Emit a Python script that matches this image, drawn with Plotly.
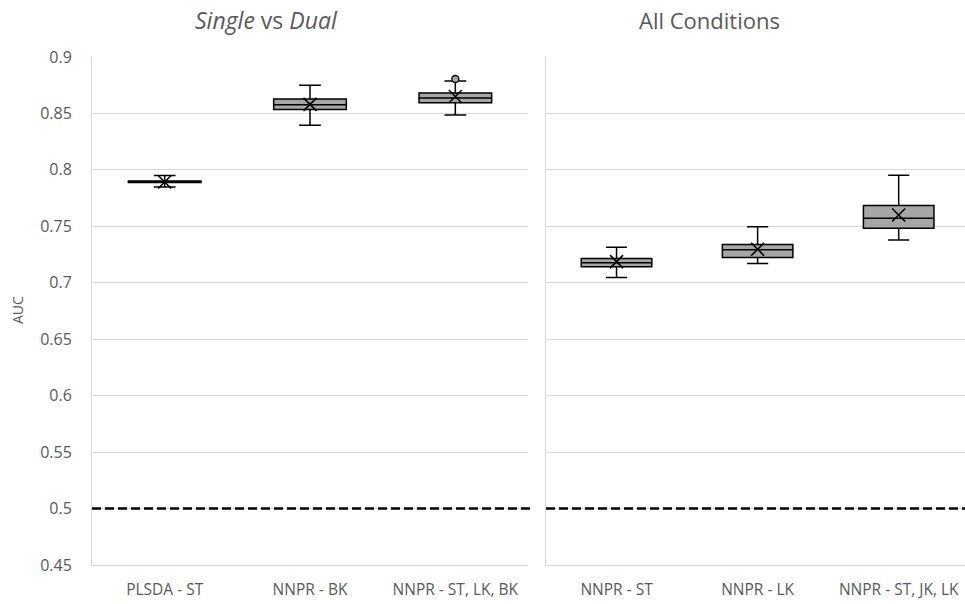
import plotly.graph_objects as go

# ---- data ----
left_cats = ["PLSDA - ST", "NNPR - BK", "NNPR - ST, LK, BK"]
left_q1 = [0.7888, 0.8535, 0.8595]
left_median = [0.7895, 0.8577, 0.8636]
left_q3 = [0.7902, 0.8627, 0.8680]
left_lower = [0.7848, 0.8395, 0.8487]
left_upper = [0.7950, 0.8750, 0.8787]
left_mean = [0.7893, 0.8580, 0.8650]
left_outlier_cat = ["NNPR - ST, LK, BK"]
left_outlier_val = [0.8805]

right_cats = ["NNPR - ST", "NNPR - LK", "NNPR - ST, JK, LK"]
right_q1 = [0.7142, 0.7225, 0.7482]
right_median = [0.7178, 0.7293, 0.7571]
right_q3 = [0.7214, 0.7340, 0.7684]
right_lower = [0.7047, 0.7170, 0.7380]
right_upper = [0.7314, 0.7497, 0.7953]
right_mean = [0.7187, 0.7297, 0.7600]

chance_level = 0.5
y_ticks = [0.45, 0.5, 0.55, 0.6, 0.65, 0.7, 0.75, 0.8, 0.85, 0.9]
y_ticklabels = ["0.45", "0.5", "0.55", "0.6", "0.65", "0.7", "0.75", "0.8", "0.85", "0.9"]

W, H = 965, 604
BOX_FILL = "#A6A6A6"
GRID = "#D9D9D9"
TXT = "#595959"
SANS = "Open Sans, Noto Sans, sans-serif"

fig = go.Figure()

def add_panel(cats, q1, med, q3, lo, hi, mean, xa, ya):
    fig.add_trace(go.Box(
        x=cats, q1=q1, median=med, q3=q3, lowerfence=lo, upperfence=hi,
        fillcolor=BOX_FILL, line=dict(color="black", width=1.5),
        width=0.5, whiskerwidth=0.3, boxpoints=False, showlegend=False,
        xaxis=xa, yaxis=ya, hoverinfo="skip"))
    fig.add_trace(go.Scatter(
        x=cats, y=mean, mode="markers",
        marker=dict(symbol="x-thin", size=13, line=dict(color="black", width=1.6)),
        showlegend=False, xaxis=xa, yaxis=ya, hoverinfo="skip"))

add_panel(left_cats, left_q1, left_median, left_q3, left_lower, left_upper, left_mean, "x", "y")
add_panel(right_cats, right_q1, right_median, right_q3, right_lower, right_upper, right_mean, "x2", "y2")

fig.add_trace(go.Scatter(
    x=left_outlier_cat, y=left_outlier_val, mode="markers",
    marker=dict(symbol="circle", size=7, color=BOX_FILL, line=dict(color="black", width=1.3)),
    showlegend=False, xaxis="x", yaxis="y", hoverinfo="skip"))

# chance line
for xref, yref in (("x domain", "y"), ("x2 domain", "y2")):
    fig.add_shape(type="line", xref=xref, yref=yref, x0=0, x1=1.01 if xref == "x domain" else 1,
                  y0=chance_level, y1=chance_level,
                  line=dict(color="black", width=2.6, dash="9px,4px"), layer="above")

x1d = [92 / W, 528 / W]
x2d = [546 / W, 1.0]

yax = dict(range=[0.45, 0.9], tickvals=y_ticks, ticktext=y_ticklabels,
           showgrid=True, gridcolor=GRID, gridwidth=1, zeroline=False,
           showline=True, linecolor=GRID, linewidth=1,
           ticks="outside", ticklen=16, tickcolor="rgba(0,0,0,0)",
           tickfont=dict(family=SANS, size=16, color=TXT), domain=[0, 1])

xax = dict(type="category", showgrid=False, zeroline=False,
           showline=True, linecolor=GRID, linewidth=1,
           ticks="outside", ticklen=10, tickcolor="rgba(0,0,0,0)",
           tickfont=dict(family=SANS, size=15.5, color=TXT))

plot_h = H - 57 - 39
fig.update_layout(
    width=W, height=H,
    margin=dict(l=0, r=0, t=57, b=39),
    paper_bgcolor="white", plot_bgcolor="white",
    xaxis=dict(**xax, domain=x1d, anchor="y", range=[-0.5, 2.5], categoryorder="array", categoryarray=left_cats),
    xaxis2=dict(**xax, domain=x2d, anchor="y2", range=[-0.5, 2.47], categoryorder="array", categoryarray=right_cats),
    yaxis=dict(**yax, anchor="x"),
    yaxis2=dict(**{**yax, "showticklabels": False}, anchor="x2"),
    annotations=[
        dict(text="<i>Single</i> vs <i>Dual</i>", x=266 / W, y=1 + (57 - 20) / plot_h,
             xref="paper", yref="paper", xanchor="center", yanchor="middle",
             showarrow=False, font=dict(family=SANS, size=23, color=TXT)),
        dict(text="All Conditions", x=709 / W, y=1 + (57 - 20) / plot_h,
             xref="paper", yref="paper", xanchor="center", yanchor="middle",
             showarrow=False, font=dict(family=SANS, size=22, color=TXT)),
        dict(text="AUC", x=17 / W, y=(H - 39 - 310) / plot_h, xref="paper", yref="paper",
             textangle=-90, xanchor="center", yanchor="middle",
             showarrow=False, font=dict(family=SANS, size=14, color=TXT)),
    ],
)

fig.write_html("out.html", config={"displayModeBar": False},
               post_script="document.body.style.margin='0';document.body.style.overflow='hidden';")
